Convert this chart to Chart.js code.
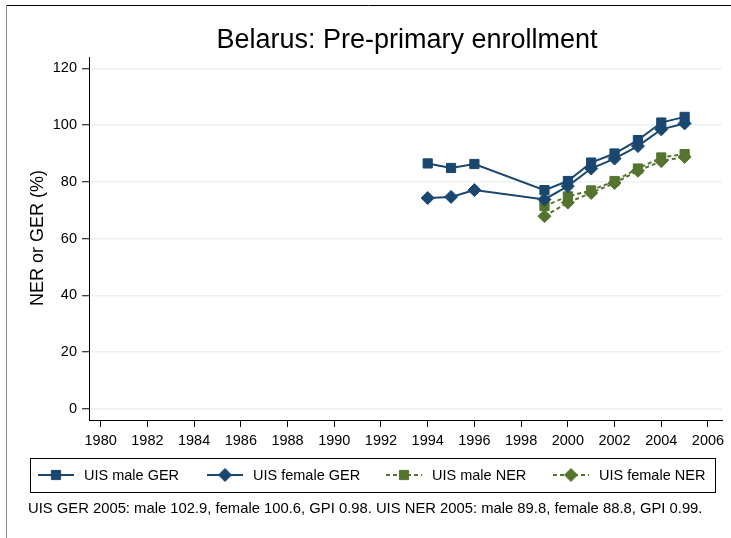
<!DOCTYPE html>
<html>
<head>
<meta charset="utf-8">
<script src="https://cdn.jsdelivr.net/npm/chart.js@4.4.1/dist/chart.umd.min.js"></script>
<style>
  html, body { margin: 0; padding: 0; background: #fff; }
  #wrap { width: 731px; height: 538px; }
</style>
</head>
<body>
<div id="wrap"><canvas id="grafico" width="731" height="538"></canvas></div>
<script>
var gerYears = [1994, 1995, 1996, 1999, 2000, 2001, 2002, 2003, 2004, 2005];
var maleGER = [86.5, 84.9, 86.3, 77.1, 80.3, 86.8, 90.0, 94.7, 100.9, 102.9];
var femaleGER = [74.3, 74.7, 77.1, 73.8, 78.5, 84.7, 88.2, 92.6, 98.5, 100.6];
var nerYears = [1999, 2000, 2001, 2002, 2003, 2004, 2005];
var maleNER = [71.5, 74.9, 77.0, 80.3, 84.7, 88.6, 89.8];
var femaleNER = [67.9, 72.7, 76.1, 79.6, 83.9, 87.3, 88.8];
var xTicks = [1980, 1982, 1984, 1986, 1988, 1990, 1992, 1994, 1996, 1998, 2000, 2002, 2004, 2006];
var yTicks = [0, 20, 40, 60, 80, 100, 120];
var seriesNames = ["UIS male GER", "UIS female GER", "UIS male NER", "UIS female NER"];
var titleText = "Belarus: Pre-primary enrollment";
var yTitle = "NER or GER (%)";
var noteText = "UIS GER 2005: male 102.9, female 100.6, GPI 0.98. UIS NER 2005: male 89.8, female 88.8, GPI 0.99.";

var navy = '#1a476f';
var green = '#55752f';
var fam = '"Liberation Sans", Arial, sans-serif';

function pts(xs, ys) {
  return xs.map(function (x, i) { return { x: x, y: ys[i] }; });
}

function series(label, xs, ys, color, style, dash) {
  return {
    label: label,
    data: pts(xs, ys),
    borderColor: color,
    backgroundColor: color,
    borderWidth: 2,
    borderDash: dash,
    pointStyle: style,
    pointRadius: 6.5,
    pointBorderWidth: 1,
    pointBorderColor: color,
    pointBackgroundColor: color,
    tension: 0
  };
}

// title, y title, legend box, note and frame
var extras = {
  id: 'extras',
  afterDraw: function (chart) {
    var c = chart.ctx;
    c.save();
    // frame
    c.strokeStyle = '#000';
    c.lineWidth = 1;
    c.beginPath(); c.moveTo(6, 5.5); c.lineTo(731, 5.5); c.stroke();
    c.strokeStyle = '#888';
    c.beginPath(); c.moveTo(6.5, 5); c.lineTo(6.5, 538); c.stroke();

    c.fillStyle = '#000';
    c.textBaseline = 'middle';
    c.textAlign = 'center';
    c.font = '27px ' + fam;
    c.fillText(titleText, 407, 41);

    c.save();
    c.translate(38, 238);
    c.rotate(-Math.PI / 2);
    c.font = '18px ' + fam;
    c.fillText(yTitle, 0, 0);
    c.restore();

    // legend
    c.strokeStyle = '#000';
    c.lineWidth = 1;
    c.strokeRect(30.5, 458.5, 685, 34);
    var xs = [38, 207, 386, 553];
    var ly = 475;
    chart.data.datasets.forEach(function (ds, i) {
      var x0 = xs[i];
      c.strokeStyle = ds.borderColor;
      c.lineWidth = 2;
      c.setLineDash(ds.borderDash || []);
      c.beginPath(); c.moveTo(x0, ly); c.lineTo(x0 + 36, ly); c.stroke();
      c.setLineDash([]);
      c.fillStyle = ds.borderColor;
      c.strokeStyle = ds.borderColor;
      c.lineWidth = 1;
      Chart.helpers.drawPoint(c, {
        pointStyle: ds.pointStyle, radius: ds.pointRadius, borderWidth: 1, rotation: 0
      }, x0 + 18, ly);
      c.fillStyle = '#000';
      c.textAlign = 'left';
      c.font = '14.5px ' + fam;
      c.fillText(ds.label, x0 + 46, ly + 1);
    });

    c.textAlign = 'left';
    c.font = '14.8px ' + fam;
    c.fillText(noteText, 28, 509);
    c.restore();
  }
};

var ctx = document.getElementById("grafico");

var lineas = new Chart(ctx, {
  type: 'line',
  data: {
    datasets: [
      series(seriesNames[0], gerYears, maleGER, navy, 'rect', []),
      series(seriesNames[1], gerYears, femaleGER, navy, 'rectRot', []),
      series(seriesNames[2], nerYears, maleNER, green, 'rect', [4, 3]),
      series(seriesNames[3], nerYears, femaleNER, green, 'rectRot', [4, 3])
    ]
  },
  options: {
    responsive: false,
    animation: false,
    devicePixelRatio: 1,
    layout: { padding: { left: 0, right: 9, top: 57, bottom: 86 } },
    plugins: {
      legend: { display: false },
      title: { display: false },
      tooltip: { enabled: false }
    },
    scales: {
      x: {
        type: 'linear',
        min: 1979.5,
        max: 2006.6,
        afterBuildTicks: function (s) { s.ticks = xTicks.map(function (v) { return { value: v }; }); },
        afterFit: function (s) { s.height = 32; },
        ticks: {
          color: '#000',
          font: { family: fam, size: 14.5 },
          padding: 5,
          maxRotation: 0,
          autoSkip: false,
          callback: function (v) { return String(v); }
        },
        grid: { drawOnChartArea: false, tickLength: 7, tickColor: '#000', tickWidth: 1 },
        border: { display: true, color: '#000', width: 1 }
      },
      y: {
        min: -3.9,
        max: 124,
        afterBuildTicks: function (s) { s.ticks = yTicks.map(function (v) { return { value: v }; }); },
        afterFit: function (s) { s.width = 89; },
        ticks: {
          color: '#000',
          font: { family: fam, size: 14.5 },
          padding: 5
        },
        grid: { color: '#eaf2f3', lineWidth: 1.5, tickLength: 7, tickColor: '#000', tickWidth: 1 },
        border: { display: true, color: '#000', width: 1 }
      }
    }
  },
  plugins: [extras]
});
</script>
</body>
</html>
